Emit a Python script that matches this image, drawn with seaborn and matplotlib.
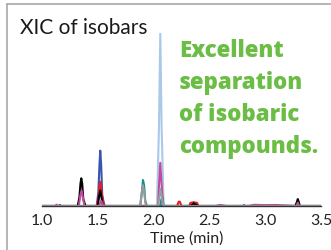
import matplotlib
matplotlib.use("Agg")
from matplotlib import pyplot as plt
from matplotlib.lines import Line2D
import pandas as pd
import seaborn as sns

# XIC traces, time (min) vs relative intensity
lightblue_t = [1.0, 2.03, 2.048, 2.06, 2.072, 2.09, 3.5]
lightblue_y = [0, 0, 45, 100, 45, 0, 0]
blue_t = [1.0, 1.15, 1.16, 1.17, 1.49, 1.505, 1.515, 1.522, 1.53, 1.54, 1.56, 2.8, 2.81, 2.82, 3.5]
blue_y = [0, 0, 0.6, 0, 0, 8, 24, 32, 24, 6, 0, 0, 0.5, 0, 0]
red_t = [1.0, 1.49, 1.505, 1.515, 1.522, 1.53, 1.545, 1.56, 2.21, 2.225, 2.235, 2.25, 2.32, 2.33, 2.36, 2.39, 2.40, 3.5]
red_y = [0, 0, 4, 11, 14, 10, 3, 0, 0, 2.5, 2.5, 0, 0, 1.8, 2.2, 1.8, 0, 0]
black_t = [1.0, 1.32, 1.335, 1.345, 1.352, 1.36, 1.37, 1.39, 1.50, 1.51, 1.522, 1.533, 1.545, 2.33, 2.36, 2.40, 3.27, 3.285, 3.292, 3.3, 3.31, 3.5]
black_y = [0, 0, 5, 13, 16, 13, 4, 0, 0, 5, 9, 5, 0, 0, 1.5, 0, 0, 2.5, 4, 2.5, 0, 0]
teal_t = [1.0, 1.88, 1.895, 1.905, 1.915, 1.925, 1.94, 2.06, 2.07, 2.08, 2.09, 3.5]
teal_y = [0, 0, 8, 15, 12, 3, 0, 0, 4, 5, 0, 0]
magenta_t = [1.0, 1.12, 1.13, 1.14, 1.33, 1.343, 1.355, 1.366, 1.38, 1.51, 1.53, 1.55, 2.04, 2.05, 2.06, 2.07, 2.085,
             2.55, 2.6, 2.65, 2.85, 2.9, 3.0, 3.1, 3.28, 3.292, 3.305, 3.5]
magenta_y = [0, 0, 0.8, 0, 0, 6, 9, 5, 0, 0, 3, 0, 0, 14, 25, 14, 0,
             0, 0.6, 0, 0, 0.7, 0.5, 0.6, 0, 2, 0, 0]
gray_t = [1.0, 1.88, 1.893, 1.905, 1.917, 1.93, 2.04, 2.05, 2.062, 2.074, 2.085, 3.5]
gray_y = [0, 0, 7, 12, 7, 0, 0, 5, 10, 5, 0, 0]

note_lines = ["Excellent", "separation", "of isobaric", "compounds."]
tick_vals = [1.0, 1.5, 2.0, 2.5, 3.0, 3.5]

# drawing order: back to front
traces = {
    "lightblue": (lightblue_t, lightblue_y),
    "blue": (blue_t, blue_y),
    "red": (red_t, red_y),
    "black": (black_t, black_y),
    "teal": (teal_t, teal_y),
    "magenta": (magenta_t, magenta_y),
    "gray": (gray_t, gray_y),
}
colors = {
    "lightblue": "#a9c9ea",
    "blue": "#3a55ad",
    "red": "#ec1c24",
    "black": "#000000",
    "teal": "#138f90",
    "magenta": "#c04a9e",
    "gray": "#9a9a9a",
}

rows = []
for name, (t, y) in traces.items():
    for ti, yi in zip(t, y):
        rows.append((name, ti, yi))
df = pd.DataFrame(rows, columns=["trace", "time", "intensity"])

sns.set_style("white")
plt.rcParams["font.family"] = ["Lato", "DejaVu Sans"]

fig = plt.figure(figsize=(3.31, 2.5), dpi=100)
ax = fig.add_axes([42 / 331, 44 / 250, 279 / 331, 173 / 250])

sns.lineplot(data=df, x="time", y="intensity", hue="trace", palette=colors,
             hue_order=list(traces.keys()), estimator=None, sort=False,
             linewidth=1.5, legend=False, ax=ax)

ax.set_xlim(1.0, 3.5)
ax.set_ylim(0, 100)
ax.set_xticks(tick_vals)
ax.set_xticklabels([f"{v:.1f}" for v in tick_vals], fontsize=11.5)
ax.set_yticks([])
ax.tick_params(axis="x", length=0, pad=6, colors="#222222")
ax.set_xlabel("Time (min)", fontsize=11.5, color="#222222", labelpad=3)
ax.xaxis.set_label_coords(0.52, -0.145)
ax.set_ylabel("")
for s in ["top", "right", "left"]:
    ax.spines[s].set_visible(False)
ax.spines["bottom"].set_linestyle((0, (1, 1)))
ax.spines["bottom"].set_linewidth(1.0)
ax.spines["bottom"].set_color("#333333")
ax.patch.set_alpha(0)

fig.text(20 / 331, 1 - 34 / 250, "XIC of isobars", fontsize=15, color="#1a1a1a", va="baseline")
for i, line in enumerate(note_lines):
    fig.text(179 / 331, 1 - (57 + 32 * i) / 250, line, family=["Open Sans", "DejaVu Sans"],
             fontsize=16, fontweight="heavy", color="#6cbd45", va="baseline")

# frame lines at the left and top edges
fig.add_artist(Line2D([7 / 331, 7 / 331], [0, 1 - 4 / 250], color="#a0a0a0", lw=1.1, transform=fig.transFigure))
fig.add_artist(Line2D([7 / 331, 1], [1 - 4 / 250, 1 - 4 / 250], color="#a0a0a0", lw=1.1, transform=fig.transFigure))

fig.savefig("out.png", dpi=100)
